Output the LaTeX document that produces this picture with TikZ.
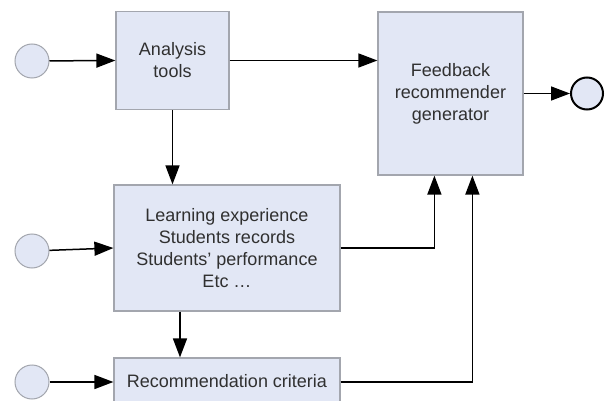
\documentclass[tikz,border=0pt]{standalone}
\usepackage{fontspec}
\setmainfont{Liberation Sans}
\usetikzlibrary{arrows.meta}
\definecolor{boxfill}{HTML}{E2E7F5}
\definecolor{boxline}{HTML}{A3A6AE}
\definecolor{txt}{HTML}{303030}
\begin{document}
\begin{tikzpicture}[x=1pt,y=-1pt,
  block/.style={draw=boxline, fill=boxfill, line width=1.2pt, align=center,
    text=txt, font=\fontsize{18}{22}\selectfont, inner sep=0pt},
  port/.style={circle, draw=boxline, fill=boxfill, line width=1pt,
    minimum size=34pt, inner sep=0pt},
  outport/.style={circle, draw=black, fill=boxfill, line width=2pt,
    minimum size=32pt, inner sep=0pt},
  flow/.style={draw=black, line width=1.5pt,
    -{Triangle[length=19pt,width=14pt]}}]
\useasboundingbox (0,0) rectangle (605,401);
\fill[white] (0,0) rectangle (605,401);

% processing blocks
\node[block, minimum width=113pt, minimum height=98pt] (an) at (172.5,60.5)
  {Analysis\\tools};
\node[block, minimum width=145pt, minimum height=163pt] (fb) at (450.5,93.5)
  {Feedback\\recommender\\generator};
\node[block, minimum width=226pt, minimum height=126pt] (le) at (227,248)
  {Learning experience\\Students records\\Students’ performance\\Etc …};
\node[block, minimum width=226pt, minimum height=46pt] (rc) at (227,381)
  {Recommendation criteria};

% inputs and output
\node[port] (i1) at (32,61) {};
\node[port] (i2) at (32,251) {};
\node[port] (i3) at (32,382) {};
\node[outport] (o1) at (587,93.5) {};

% flows
\draw[flow] (i1) -- (an.west);
\draw[flow] (i2) -- (le.west);
\draw[flow] (i3) -- (rc.west |- i3);
\draw[flow] (an.east) -- (an.east -| fb.west);
\draw[flow] (fb.east) -- (o1);
\draw[flow] (an.south) -- (an.south |- le.north);
\draw[flow] ([xshift=-47pt]le.south) -- ([xshift=-47pt]le.south |- rc.north);
\coordinate (k1) at ([xshift=57pt]fb.south west);
\coordinate (k2) at ([xshift=95pt]fb.south west);
\draw[flow] (le.east) -- (le.east -| k1) -- (k1);
\draw[flow] (rc.east |- i3) -- (rc.east |- i3 -| k2) -- (k2);
\end{tikzpicture}
\end{document}
